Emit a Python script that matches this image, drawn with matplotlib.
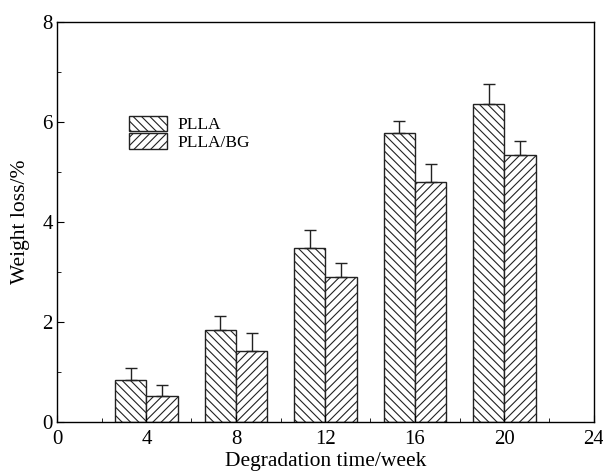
import matplotlib
matplotlib.use('Agg')
import matplotlib.pyplot as plt
from matplotlib.ticker import MultipleLocator
import numpy as np

plt.rcParams['font.family'] = 'Liberation Serif'
plt.rcParams['hatch.linewidth'] = 0.8

# Data
weeks = [4, 8, 12, 16, 20]
plla = [0.84, 1.84, 3.49, 5.77, 6.36]
plla_err = [0.25, 0.28, 0.35, 0.25, 0.40]
plla_bg = [0.53, 1.42, 2.91, 4.81, 5.35]
plla_bg_err = [0.22, 0.36, 0.28, 0.35, 0.28]

fig = plt.figure(figsize=(6.03, 4.76), dpi=100)
ax = fig.add_axes([0.0945, 0.1134, 0.8905, 0.8404])

w = 1.4
x = np.array(weeks)
ax.bar(x - w / 2, plla, width=w, facecolor='white', edgecolor='#222222',
       hatch='\\\\\\\\', linewidth=1.0, label='PLLA')
ax.bar(x + w / 2, plla_bg, width=w, facecolor='white', edgecolor='#222222',
       hatch='////', linewidth=1.0, label='PLLA/BG')
ax.errorbar(x - w / 2, plla, yerr=[np.zeros(5), plla_err], fmt='none',
            ecolor='#222222', elinewidth=1.0, capsize=4, capthick=1.0)
ax.errorbar(x + w / 2, plla_bg, yerr=[np.zeros(5), plla_bg_err], fmt='none',
            ecolor='#222222', elinewidth=1.0, capsize=4, capthick=1.0)

ax.set_xlim(0, 24)
ax.set_ylim(0, 8)
ax.xaxis.set_major_locator(MultipleLocator(4))
ax.xaxis.set_minor_locator(MultipleLocator(2))
ax.yaxis.set_major_locator(MultipleLocator(2))
ax.yaxis.set_minor_locator(MultipleLocator(1))
ax.tick_params(which='both', direction='in', top=False, right=False,
               labelsize=15)
ax.tick_params(which='major', length=5)
ax.tick_params(axis='x', which='major', pad=6)
ax.tick_params(axis='y', which='major', pad=3)
ax.tick_params(which='minor', length=3)
for s in ax.spines.values():
    s.set_linewidth(1.0)

ax.set_xlabel('Degradation time/week', fontsize=15.5, labelpad=2)
ax.set_ylabel('Weight loss/%', fontsize=15.5, labelpad=9)

ax.legend(loc='upper left', bbox_to_anchor=(0.105, 0.805), frameon=False,
          fontsize=12.5, handlelength=2.2, handleheight=1.0, handletextpad=0.6,
          labelspacing=0.0)

fig.savefig('out.png', dpi=100)
